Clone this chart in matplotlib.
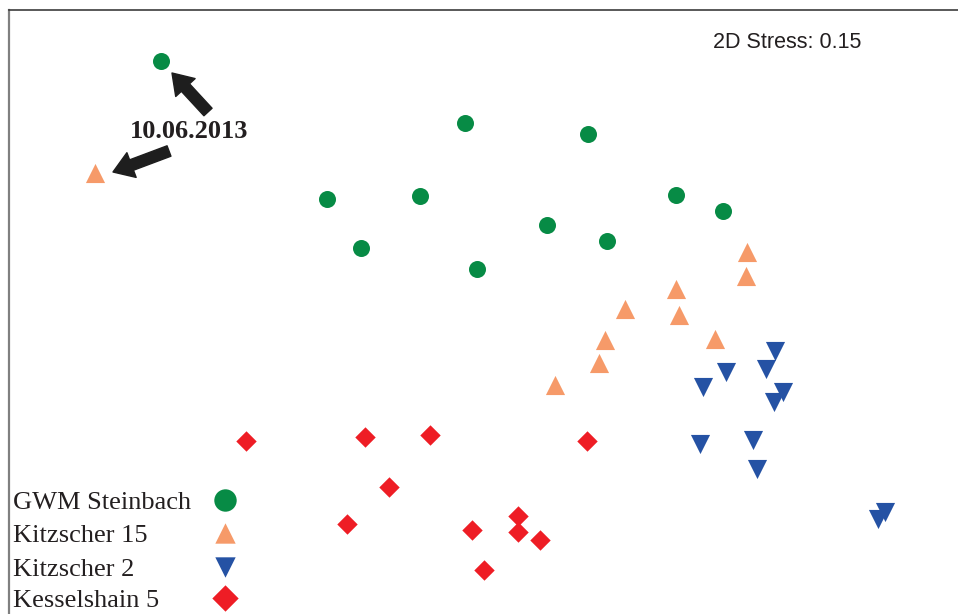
import numpy as np
import matplotlib.pyplot as plt

# NMDS positions (pixel-like units, y grows downward)
steinbach_x = [161, 465, 588, 327, 420, 361, 547, 607, 477, 676, 723]
steinbach_y = [61, 123, 134, 199, 196, 248, 225, 241, 269, 195, 211]

kitz15_x = [95, 747, 746, 676, 625, 679, 605, 715, 599, 555]
kitz15_y = [173, 252, 276, 289, 309, 315, 340, 339, 363, 385]

kitz2_x = [775, 726, 766, 703, 783, 774, 700, 753, 757, 885, 878]
kitz2_y = [351, 372, 369, 387, 392, 402, 444, 440, 469, 512, 519]

kessel_x = [246, 365, 430, 587, 389, 347, 472, 518, 518, 540, 484]
kessel_y = [441, 437, 435, 441, 487, 524, 530, 516, 532, 540, 570]

labels = ['GWM Steinbach', 'Kitzscher 15', 'Kitzscher 2', 'Kesselshain 5']
colors = ['#078b45', '#f69a69', '#2552a4', '#ee1d25']
markers = ['o', '^', 'v', 'D']
sizes = [150, 190, 190, 108]
legend_sizes = [260, 215, 215, 180]

# arrows (tail -> head) pointing at the 10.06.2013 samples
arrow_tails = [(208, 112), (169, 151)]
arrow_heads = [(172, 73), (113, 172)]

fig = plt.figure(figsize=(9.58, 6.14), dpi=100)
ax = fig.add_axes([9 / 958, (614 - 700) / 614, (1000 - 9) / 958, (700 - 10) / 614])
ax.set_xlim(9, 1000)
ax.set_ylim(700, 10)
ax.set_xticks([])
ax.set_yticks([])
ax.spines['top'].set_color('#3c3c3c')
ax.spines['top'].set_linewidth(1.2)
ax.spines['left'].set_color('#808080')
ax.spines['left'].set_linewidth(1.6)
ax.spines['right'].set_visible(False)
ax.spines['bottom'].set_visible(False)

groups = [(steinbach_x, steinbach_y), (kitz15_x, kitz15_y),
          (kitz2_x, kitz2_y), (kessel_x, kessel_y)]
for (gx, gy), c, m, s in zip(groups, colors, markers, sizes):
    ax.scatter(gx, gy, s=s, marker=m, color=c, linewidths=0)

for tail, head in zip(arrow_tails, arrow_heads):
    ax.annotate('', xy=head, xytext=tail,
                arrowprops=dict(arrowstyle='simple,head_length=0.75,head_width=1.0,tail_width=0.42',
                                color='#1e1e1e', shrinkA=0, shrinkB=0, mutation_scale=19))
ax.text(189, 131, '10.06.2013', fontsize=19, fontweight='bold', family='Liberation Serif',
        color='#231f20', ha='center', va='center')

ax.text(787, 42, '2D Stress: 0.15', fontsize=15.5, family='Liberation Sans',
        color='#231f20', ha='center', va='center')

# hand-made legend: text on the left, marker on the right
lax = fig.add_axes([0, 0, 1, 1])
lax.set_xlim(0, 958)
lax.set_ylim(614, 0)
lax.axis('off')
row_y = [500, 533, 567, 598]
for lab, c, m, s, y in zip(labels, colors, markers, legend_sizes, row_y):
    lax.text(13, y + 9, lab, fontsize=19, family='Liberation Serif', color='#231f20',
             ha='left', va='baseline')
    lax.scatter([225], [y], s=s, marker=m, color=c, linewidths=0, clip_on=False)

fig.savefig('out.png', dpi=100)
